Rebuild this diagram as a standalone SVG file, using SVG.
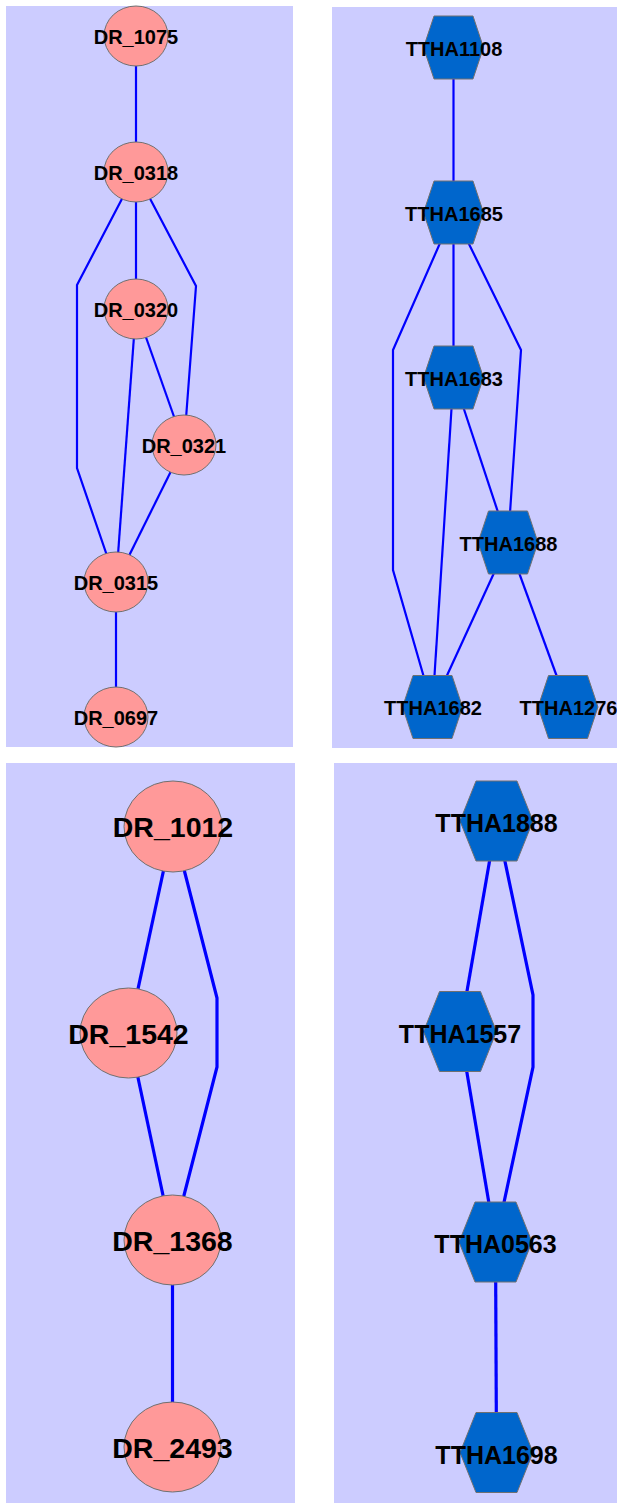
<svg xmlns="http://www.w3.org/2000/svg" width="617" height="1505" viewBox="0 0 617 1505">
  <style>
    .panel { fill: #ccccff; }
    .edge { fill: none; stroke: #0000ff; stroke-width: 2.2; stroke-linejoin: miter; }
    .edge-thick { fill: none; stroke: #0000ff; stroke-width: 3.2; }
    .dr { fill: #ff9999; stroke: #707070; stroke-width: 1; }
    .ttha { fill: #0066cc; stroke: #707070; stroke-width: 1; }
    .lbl { font-family: "Liberation Sans", Arial, sans-serif; font-weight: bold; fill: #000; text-anchor: middle; }
    .s { font-size: 20px; }
    .l-dr { font-size: 28.5px; }
    .l-tt { font-size: 25px; }
  </style>

  <!-- panel backgrounds -->
  <rect class="panel" x="6" y="6" width="287" height="741"/>
  <rect class="panel" x="332" y="7" width="285" height="741"/>
  <rect class="panel" x="6" y="763" width="289" height="740"/>
  <rect class="panel" x="334" y="763" width="283" height="740"/>

  <!-- connectors -->
  <g id="edges">
    <!-- upper left network -->
    <line class="edge" x1="136" y1="36" x2="136" y2="172"/>
    <line class="edge" x1="136" y1="172" x2="136" y2="309"/>
    <polyline class="edge" points="136,172 77,285 77,468 116,582"/>
    <polyline class="edge" points="136,172 196,286 184,445"/>
    <line class="edge" x1="136" y1="309" x2="116" y2="582"/>
    <line class="edge" x1="136" y1="309" x2="184" y2="445"/>
    <line class="edge" x1="184" y1="445" x2="116" y2="582"/>
    <line class="edge" x1="116" y1="582" x2="116" y2="717"/>

    <!-- upper right network -->
    <line class="edge" x1="453.5" y1="47.5" x2="453.5" y2="212.5"/>
    <line class="edge" x1="453.5" y1="212.5" x2="453.5" y2="377.5"/>
    <polyline class="edge" points="453.5,212.5 393,350 393,570 432.5,707"/>
    <polyline class="edge" points="453.5,212.5 521,350 508,542.5"/>
    <line class="edge" x1="453.5" y1="377.5" x2="432.5" y2="707"/>
    <line class="edge" x1="453.5" y1="377.5" x2="508" y2="542.5"/>
    <line class="edge" x1="508" y1="542.5" x2="432.5" y2="707"/>
    <line class="edge" x1="508" y1="542.5" x2="568" y2="707"/>

    <!-- lower left network -->
    <line class="edge-thick" x1="173" y1="826.5" x2="128.5" y2="1033"/>
    <polyline class="edge-thick" points="173,826.5 217,998 217,1067 172.5,1240"/>
    <line class="edge-thick" x1="128.5" y1="1033" x2="172.5" y2="1240"/>
    <line class="edge-thick" x1="172.5" y1="1240" x2="172.5" y2="1447"/>

    <!-- lower right network -->
    <line class="edge-thick" x1="496.5" y1="821" x2="460" y2="1031.5"/>
    <polyline class="edge-thick" points="496.5,821 533,995 533,1067 495.5,1242"/>
    <line class="edge-thick" x1="460" y1="1031.5" x2="495.5" y2="1242"/>
    <line class="edge-thick" x1="495.5" y1="1242" x2="496.5" y2="1452.5"/>
  </g>

  <!-- upper left nodes -->
  <g id="DR_1075"><ellipse class="dr" cx="136" cy="36" rx="32" ry="30"/><text class="lbl s" x="136" y="43.5">DR_1075</text></g>
  <g id="DR_0318"><ellipse class="dr" cx="136" cy="172" rx="32" ry="30"/><text class="lbl s" x="136" y="179.5">DR_0318</text></g>
  <g id="DR_0320"><ellipse class="dr" cx="136" cy="309" rx="32" ry="30"/><text class="lbl s" x="136" y="316.5">DR_0320</text></g>
  <g id="DR_0321"><ellipse class="dr" cx="184" cy="445" rx="32" ry="30"/><text class="lbl s" x="184" y="452.5">DR_0321</text></g>
  <g id="DR_0315"><ellipse class="dr" cx="116" cy="582" rx="32" ry="30"/><text class="lbl s" x="116" y="589.5">DR_0315</text></g>
  <g id="DR_0697"><ellipse class="dr" cx="116" cy="717" rx="32" ry="30"/><text class="lbl s" x="116" y="724.5">DR_0697</text></g>

  <!-- upper right nodes (hexagons: half width 30, top half 19.5, half height 31.5) -->
  <g id="TTHA1108"><polygon class="ttha" points="434,16 473,16 483.5,47.5 473,79 434,79 423.5,47.5"/><text class="lbl s" x="454" y="55.5">TTHA1108</text></g>
  <g id="TTHA1685"><polygon class="ttha" points="434,181 473,181 483.5,212.5 473,244 434,244 423.5,212.5"/><text class="lbl s" x="454" y="220.5">TTHA1685</text></g>
  <g id="TTHA1683"><polygon class="ttha" points="434,346 473,346 483.5,377.5 473,409 434,409 423.5,377.5"/><text class="lbl s" x="454" y="385.5">TTHA1683</text></g>
  <g id="TTHA1688"><polygon class="ttha" points="488.5,511 527.5,511 538,542.5 527.5,574 488.5,574 478,542.5"/><text class="lbl s" x="508.5" y="550.5">TTHA1688</text></g>
  <g id="TTHA1682"><polygon class="ttha" points="413,675.5 452,675.5 462.5,707 452,738.5 413,738.5 402.5,707"/><text class="lbl s" x="433" y="715">TTHA1682</text></g>
  <g id="TTHA1276"><polygon class="ttha" points="548.5,675.5 587.5,675.5 598,707 587.5,738.5 548.5,738.5 538,707"/><text class="lbl s" x="568.5" y="715">TTHA1276</text></g>

  <!-- lower left nodes -->
  <g id="DR_1012"><ellipse class="dr" cx="173" cy="826.5" rx="49" ry="45.5"/><text class="lbl l-dr" x="173" y="837">DR_1012</text></g>
  <g id="DR_1542"><ellipse class="dr" cx="128.5" cy="1033" rx="48.5" ry="45"/><text class="lbl l-dr" x="128.5" y="1043.5">DR_1542</text></g>
  <g id="DR_1368"><ellipse class="dr" cx="172.5" cy="1240" rx="48.5" ry="45"/><text class="lbl l-dr" x="172.5" y="1250.5">DR_1368</text></g>
  <g id="DR_2493"><ellipse class="dr" cx="172.5" cy="1447" rx="48.5" ry="45"/><text class="lbl l-dr" x="172.5" y="1457.5">DR_2493</text></g>

  <!-- lower right nodes (hexagons: half width 36.5, top half 20.5, half height 40) -->
  <g id="TTHA1888"><polygon class="ttha" points="476,781 517,781 533,821 517,861 476,861 460,821"/><text class="lbl l-tt" x="496.5" y="832">TTHA1888</text></g>
  <g id="TTHA1557"><polygon class="ttha" points="439.5,991.5 480.5,991.5 496.5,1031.5 480.5,1071.5 439.5,1071.5 423.5,1031.5"/><text class="lbl l-tt" x="460" y="1042.5">TTHA1557</text></g>
  <g id="TTHA0563"><polygon class="ttha" points="475,1202 516,1202 532,1242 516,1282 475,1282 459,1242"/><text class="lbl l-tt" x="495.5" y="1253">TTHA0563</text></g>
  <g id="TTHA1698"><polygon class="ttha" points="476,1412.5 517,1412.5 533,1452.5 517,1492.5 476,1492.5 460,1452.5"/><text class="lbl l-tt" x="496.5" y="1463.5">TTHA1698</text></g>
</svg>
